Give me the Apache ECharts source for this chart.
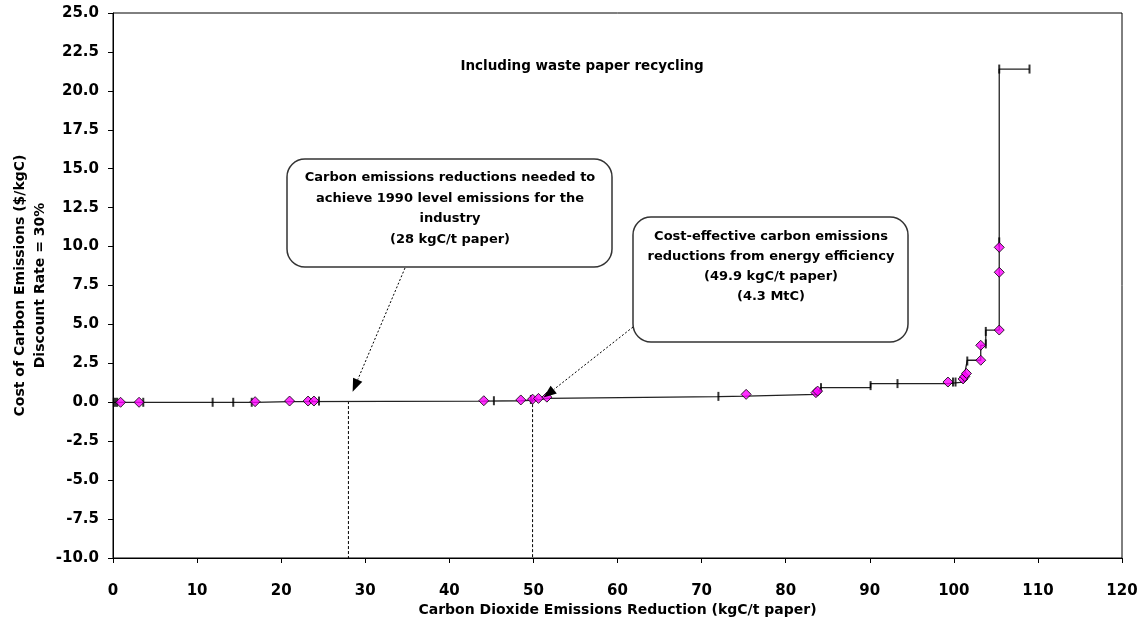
<!DOCTYPE html>
<html>
<head>
<meta charset="utf-8">
<script src="https://cdn.jsdelivr.net/npm/echarts@6/dist/echarts.min.js"></script>
<style>html,body{margin:0;padding:0;background:#fff}#c{width:1143px;height:624px}</style>
</head>
<body>
<div id="c"></div>
<script>
// ---- Data ----
const xTicks = [0, 10, 20, 30, 40, 50, 60, 70, 80, 90, 100, 110, 120];
const yTicks = [-10, -7.5, -5, -2.5, 0, 2.5, 5, 7.5, 10, 12.5, 15, 17.5, 20, 22.5, 25];
// step curve segments: start, end, cost
const stepStart = [0, 16.9, 21.0, 44.1, 48.5, 50.6, 51.6, 72.0, 75.3, 84.2, 90.1, 99.3, 101.6, 103.2, 103.8, 105.4];
const stepEnd   = [16.9, 21.0, 44.1, 48.5, 50.6, 51.6, 72.0, 75.3, 83.7, 90.1, 99.3, 101.1, 103.2, 103.8, 105.4, 109.0];
const stepCost  = [0.0, 0.04, 0.08, 0.1, 0.15, 0.25, 0.36, 0.4, 0.51, 0.94, 1.2, 1.3, 2.7, 3.66, 4.64, 21.4];
// measures (diamond markers)
const diamondX = [0.9, 3.1, 16.9, 21.0, 23.2, 23.9, 44.1, 48.5, 49.9, 50.6, 51.6, 75.3, 83.6, 83.8, 99.3, 101.1, 101.3, 101.5, 103.2, 103.2, 105.4, 105.4, 105.4];
const diamondY = [0.0, 0.0, 0.04, 0.08, 0.08, 0.08, 0.1, 0.15, 0.2, 0.25, 0.33, 0.51, 0.62, 0.72, 1.3, 1.5, 1.65, 1.85, 2.7, 3.66, 4.64, 8.35, 9.95];
// error-bar caps
const capX = [0.1, 0.3, 0.5, 3.6, 11.85, 14.3, 16.5, 24.5, 45.3, 49.7, 72.0, 84.2, 90.1, 93.3, 99.9, 100.2, 101.6, 103.8, 103.8, 105.4, 105.4, 109.0];
const capY = [0, 0, 0, 0, 0, 0, 0, 0.08, 0.1, 0.18, 0.38, 0.94, 1.07, 1.2, 1.3, 1.3, 2.65, 3.75, 4.55, 10.3, 21.4, 21.4];
// reference (dashed) lines
const refX = [28, 49.9];
const refTop = [0.08, 0.2];
const yMin = -10;
// annotations
const note1 = ['Carbon emissions reductions needed to', 'achieve 1990 level emissions for the', 'industry', '(28 kgC/t paper)'];
const note2 = ['Cost-effective carbon emissions', 'reductions from energy efficiency', '(49.9 kgC/t paper)', '(4.3 MtC)'];
const arrowTip1 = [28.5, 0.68];
const arrowTip2 = [51.2, 0.3];
const subTitle = 'Including waste paper recycling';
const xTitle = 'Carbon Dioxide Emissions Reduction (kgC/t paper)';
const yTitle = ['Cost of Carbon Emissions ($/kgC)', 'Discount Rate = 30%'];

// ---- build ----
const curve = [];
for (let i = 0; i < stepStart.length; i++) {
  curve.push([stepStart[i], stepCost[i]]);
  curve.push([stepEnd[i], stepCost[i]]);
}
const diamonds = diamondX.map((x, i) => [x, diamondY[i]]);
const caps = capX.map((x, i) => [x, capY[i]]);
const refSeries = refX.map((x, i) => ({
  type: 'line', data: [[x, refTop[i]], [x, yMin]], symbol: 'none', silent: true,
  lineStyle: { color: '#000', width: 1, type: [3, 2] }, z: 1
}));

const FONT = 'DejaVu Sans';
const chart = echarts.init(document.getElementById('c'), null, { renderer: 'canvas' });
const option = {
  animation: false,
  backgroundColor: '#fff',
  grid: { left: 113, top: 13, right: 21, bottom: 66, show: true, borderColor: '#000', borderWidth: 1,
    containLabel: false, outerBoundsMode: 'none' },
  xAxis: {
    type: 'value', min: 0, max: 120, interval: 10,
    axisLine: { onZero: false, lineStyle: { color: '#000' } },
    axisTick: { show: true, length: 5, lineStyle: { color: '#000' } },
    axisLabel: { color: '#000', fontFamily: FONT, fontWeight: 'bold', fontSize: 15, margin: 26 },
    splitLine: { show: false },
    name: xTitle, nameLocation: 'middle', nameGap: 45, nameMoveOverlap: false,
    nameTextStyle: { color: '#000', fontFamily: FONT, fontWeight: 'bold', fontSize: 14 }
  },
  yAxis: {
    type: 'value', min: -10, max: 25, interval: 2.5,
    axisLine: { onZero: false, lineStyle: { color: '#000' } },
    axisTick: { show: true, length: 5, lineStyle: { color: '#000' } },
    axisLabel: { color: '#000', fontFamily: FONT, fontWeight: 'bold', fontSize: 15, margin: 14,
      formatter: v => v.toFixed(1) },
    splitLine: { show: false },
    name: yTitle.join('\n'), nameLocation: 'middle', nameGap: 63, nameRotate: 90, nameMoveOverlap: false,
    nameTextStyle: { color: '#000', fontFamily: FONT, fontWeight: 'bold', fontSize: 14, lineHeight: 20 }
  },
  series: [
    ...refSeries,
    { type: 'line', data: curve, symbol: 'none', lineStyle: { color: '#222', width: 1.3 }, z: 2 },
    { type: 'scatter', data: caps, symbol: 'rect', symbolSize: [2, 9], itemStyle: { color: '#000' }, z: 3 },
    { type: 'scatter', data: diamonds, symbol: 'diamond', symbolSize: 10,
      itemStyle: { color: '#FF00FF', borderColor: '#000', borderWidth: 1 }, z: 4 }
  ]
};
chart.setOption(option);

function arrow(from, tip) {
  const dx = tip[0] - from[0], dy = tip[1] - from[1];
  const len = Math.sqrt(dx * dx + dy * dy);
  const ux = dx / len, uy = dy / len;
  const hl = 13, hw = 5;
  const bx = tip[0] - ux * hl, by = tip[1] - uy * hl;
  return [
    { type: 'line', shape: { x1: from[0], y1: from[1], x2: bx, y2: by },
      style: { stroke: '#000', lineWidth: 1, lineDash: [2, 2] }, z: 10 },
    { type: 'polygon', shape: { points: [[tip[0], tip[1]], [bx - uy * hw, by + ux * hw], [bx + uy * hw, by - ux * hw]] },
      style: { fill: '#000' }, z: 10 }
  ];
}
function box(x, y, w, h, lines, cx, y0, lh) {
  const els = [{ type: 'rect', shape: { x: x, y: y, width: w, height: h, r: 18 },
    style: { fill: '#fff', stroke: '#333', lineWidth: 1.5 }, z: 9 }];
  lines.forEach((t, i) => els.push({ type: 'text', x: cx, y: y0 + i * lh, z: 11,
    style: { text: t, fill: '#000', font: 'bold 13px "DejaVu Sans"', textAlign: 'center', textVerticalAlign: 'middle' } }));
  return els;
}
const t1 = chart.convertToPixel({ gridIndex: 0 }, arrowTip1);
const t2 = chart.convertToPixel({ gridIndex: 0 }, arrowTip2);
chart.setOption({
  graphic: [
    ...arrow([405, 268], t1),
    ...arrow([633, 327], t2),
    ...box(287, 159, 325, 108, note1, 450, 178, 20.5),
    ...box(633, 217, 275, 125, note2, 771, 237, 20),
    { type: 'text', x: 582, y: 66, z: 11,
      style: { text: subTitle, fill: '#000', font: 'bold 13.5px "DejaVu Sans"', textAlign: 'center', textVerticalAlign: 'middle' } }
  ]
});
</script>
</body>
</html>
